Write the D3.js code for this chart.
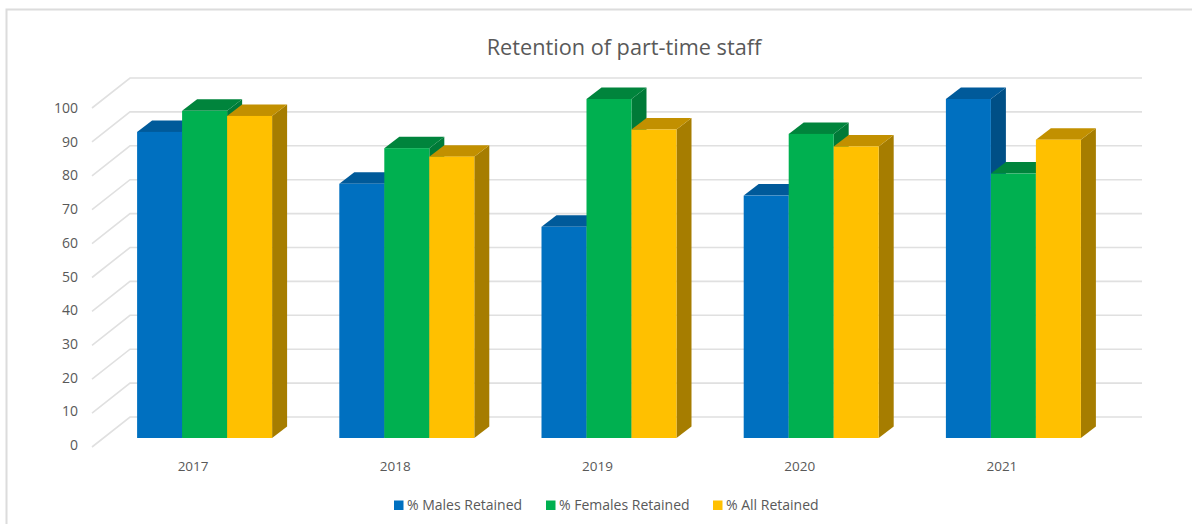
<!DOCTYPE html>
<html><head><meta charset="utf-8">
<script src="https://cdn.jsdelivr.net/npm/d3@7"></script>
<style>html,body{margin:0;padding:0;background:#fff}svg{display:block}text{font-family:"Open Sans","Noto Sans",sans-serif}</style>
</head><body><svg id="c" width="1192" height="524"></svg>
<script>
const title = "Retention of part-time staff";
const years = ["2017","2018","2019","2020","2021"];
const seriesNames = ["% Males Retained","% Females Retained","% All Retained"];
const males = [90.3,75,62.3,71.5,100];
const females = [96.5,85.5,100,89.7,78];
const all = [95,83,91,86,88];
const yTicks = [0,10,20,30,40,50,60,70,80,90,100];
const faceColors = ["#0070C0","#00B050","#FFC000"];
const topColors = ["#005A9A","#00843C","#C29000"];
const sideColors = ["#004F86","#007A38","#A67D00"];

const svg = d3.select("#c");
const dx = 15, dy = 11.5;
const yFront = d3.scaleLinear().domain([0,100]).range([438,99]);
const yBack = d3.scaleLinear().domain([0,100]).range([417,78]);
const yLabel = d3.scaleLinear().domain([0,100]).range([445,108]);
const xCat = d3.scaleBand().domain(years).range([103.5,1114.5]);
const barW = 45;
const xSer = d3.scaleBand().domain(seriesNames).range([0,barW*3]);
const values = [males,females,all];

// frame
svg.append("path").attr("d","M6.5,524V9.5H1192").attr("fill","none").attr("stroke","#dcdcdc").attr("stroke-width",2);

// title
svg.append("text").attr("x",624).attr("y",55).attr("text-anchor","middle").attr("font-size",21.7).attr("fill","#595959").text(title);

// gridlines
const grid = svg.append("g").attr("fill","none").attr("stroke","#e0e0e0").attr("stroke-width",1.6);
yTicks.forEach(t=>{
  grid.append("path").attr("d",d3.line()([[92,yBack(t)+30],[130,yBack(t)],[1142,yBack(t)]]));
});

// y labels
svg.append("g").selectAll("text").data(yTicks).join("text")
  .attr("x",78).attr("y",d=>yLabel(d)+5).attr("text-anchor","end").attr("font-size",14).attr("fill","#595959").text(d=>d);

// bars
years.forEach((yr,i)=>{
  const x0 = xCat(yr) + (xCat.bandwidth()-barW*3)/2;
  const g = svg.append("g");
  seriesNames.forEach((s,j)=>{
    const xa = x0 + xSer(s), xb = xa + xSer.bandwidth();
    const yT = yFront(values[j][i]), yB = yFront(0);
    g.append("path").attr("fill",sideColors[j]).attr("d",d3.line()([[xb,yT],[xb+dx,yT-dy],[xb+dx,yB-dy],[xb,yB]])+"Z");
    g.append("path").attr("fill",topColors[j]).attr("d",d3.line()([[xa,yT],[xa+dx,yT-dy],[xb+dx,yT-dy],[xb,yT]])+"Z");
    g.append("rect").attr("fill",faceColors[j]).attr("x",xa).attr("y",yT).attr("width",xb-xa).attr("height",yB-yT);
  });
  svg.append("text").attr("x",x0+barW*1.5-11.5).attr("y",471).attr("text-anchor","middle").attr("font-size",13.5).attr("fill","#595959").text(yr);
});

// legend
const legX = [394,546,713];
const lg = svg.append("g");
seriesNames.forEach((s,j)=>{
  lg.append("rect").attr("x",legX[j]).attr("y",500.5).attr("width",9.5).attr("height",9.5).attr("fill",faceColors[j]);
  lg.append("text").attr("x",legX[j]+13).attr("y",510).attr("font-size",14).attr("fill","#595959").text(s);
});
</script></body></html>
